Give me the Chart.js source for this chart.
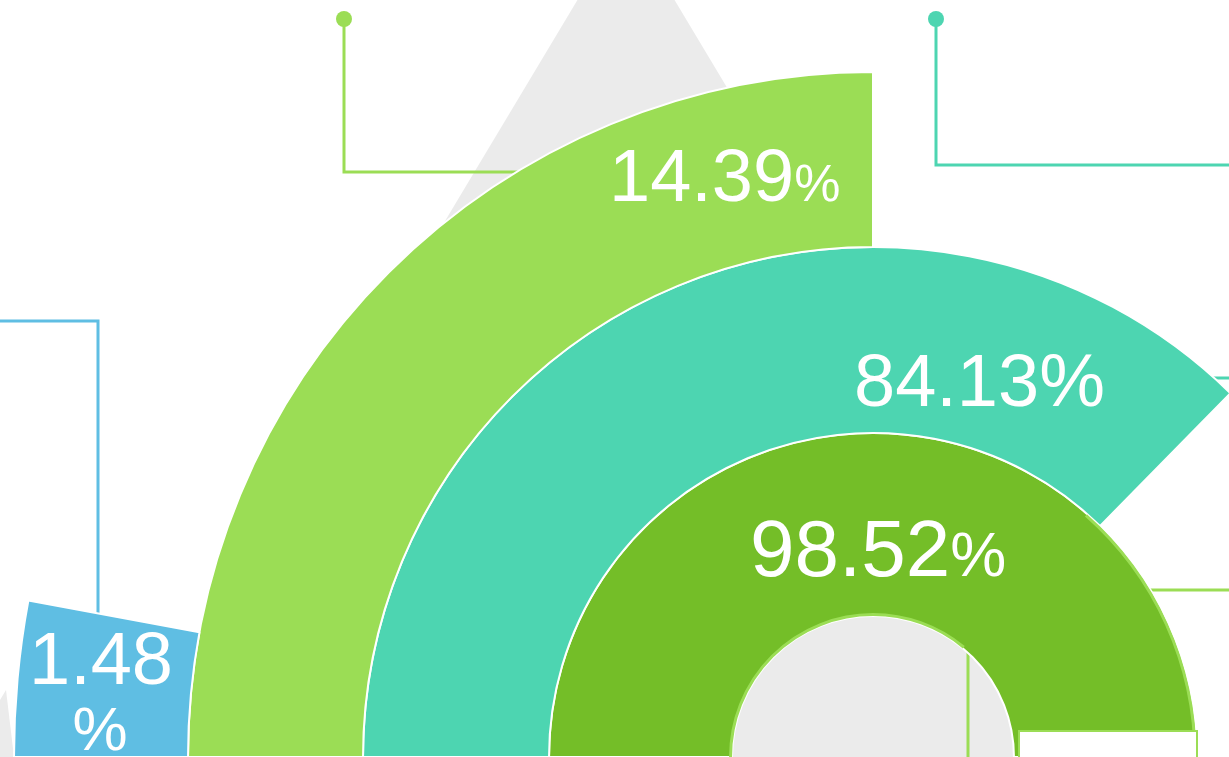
<!DOCTYPE html>
<html>
<head>
<meta charset="utf-8">
<title>Radial share chart</title>
<script src="https://cdn.jsdelivr.net/npm/chart.js@4.4.1/dist/chart.umd.min.js"></script>
<style>
  html, body { margin: 0; padding: 0; width: 1229px; height: 757px; overflow: hidden; background: #ffffff; }
  #wrap { position: absolute; left: 0; top: -116px; width: 1746px; height: 1746px; }
</style>
</head>
<body>
<div id="wrap"><canvas id="ringChart" width="1746" height="1746"></canvas></div>
<script>
// Values, outer ring first
const ringLabels = ['1.48', '14.39', '84.13', '98.52'];
const shareValues = [1.48, 14.39, 84.13, 98.52];
// sweep of each ring as drawn, in degrees
const arcSweeps = [10.5, 90, 134.5, 180];
const ringColors = ['#5fbee3', '#9bdd55', '#4dd5b1', '#74be28'];
const ringWeights = [174, 175, 186, 183];

// page offset of the canvas (canvas centre sits at the bottom of the page)
const OFFSET_Y = 116;
const GRAY = '#ebebeb';
const FONT = '"Liberation Sans", Arial, sans-serif';

function polyline(ctx, pts, color, width) {
  ctx.beginPath();
  ctx.moveTo(pts[0][0], pts[0][1]);
  for (let i = 1; i < pts.length; i++) ctx.lineTo(pts[i][0], pts[i][1]);
  ctx.strokeStyle = color;
  ctx.lineWidth = width || 3;
  ctx.lineJoin = 'miter';
  ctx.stroke();
}

function dot(ctx, x, y, r, color) {
  ctx.beginPath();
  ctx.arc(x, y, r, 0, Math.PI * 2);
  ctx.fillStyle = color;
  ctx.fill();
}

// background shapes and leader lines, drawn under the rings
const backdrop = {
  id: 'backdrop',
  beforeDatasetsDraw(chart) {
    const ctx = chart.ctx;
    ctx.save();
    ctx.translate(0, OFFSET_Y);

    // gray peak behind the rings
    ctx.beginPath();
    ctx.moveTo(626, -81);
    ctx.lineTo(1130, 760);
    ctx.lineTo(122, 760);
    ctx.closePath();
    ctx.fillStyle = GRAY;
    ctx.fill();

    // small gray piece bottom left
    ctx.beginPath();
    ctx.moveTo(0, 700);
    ctx.lineTo(6, 690);
    ctx.lineTo(14, 757);
    ctx.lineTo(0, 757);
    ctx.closePath();
    ctx.fill();

    // leader lines
    polyline(ctx, [[344, 19], [344, 172], [520, 172]], ringColors[1]);
    dot(ctx, 344, 19, 8, ringColors[1]);
    polyline(ctx, [[936, 19], [936, 165], [1229, 165]], ringColors[2]);
    dot(ctx, 936, 19, 8, ringColors[2]);
    polyline(ctx, [[0, 321], [98, 321], [98, 640]], ringColors[0]);
    polyline(ctx, [[1190, 378], [1229, 378]], ringColors[2]);
    polyline(ctx, [[1140, 590], [1229, 590]], ringColors[1]);
    polyline(ctx, [[968, 600], [968, 757]], ringColors[1]);

    ctx.restore();
  },
  afterDatasetsDraw(chart) {
    const ctx = chart.ctx;
    const inner = chart.getDatasetMeta(3).data[0];
    ctx.save();

    // light green outlines around the innermost ring
    ctx.strokeStyle = ringColors[1];
    ctx.lineWidth = 3;
    ctx.beginPath();
    ctx.arc(inner.x, inner.y, inner.outerRadius - 2, -Math.PI * 0.27, 0);
    ctx.stroke();
    ctx.beginPath();
    ctx.arc(inner.x, inner.y, inner.innerRadius + 1.5, Math.PI, Math.PI * 1.72);
    ctx.stroke();

    ctx.translate(0, OFFSET_Y);

    // white box at the end of the inner ring
    ctx.fillStyle = '#ffffff';
    ctx.fillRect(1019, 731, 178, 30);
    ctx.strokeStyle = ringColors[1];
    ctx.lineWidth = 2;
    ctx.strokeRect(1019, 731, 178, 30);

    // value labels
    ctx.fillStyle = '#ffffff';
    ctx.textAlign = 'left';
    ctx.textBaseline = 'alphabetic';
    const label = (txt, x, y, size, pctSize) => {
      ctx.font = size + 'px ' + FONT;
      ctx.fillText(txt, x, y);
      const w = ctx.measureText(txt).width;
      ctx.font = pctSize + 'px ' + FONT;
      ctx.fillText('%', x + w, y);
    };
    label(ringLabels[1], 609, 201, 74, 52);
    label(ringLabels[2], 854, 406, 74, 74);
    label(ringLabels[3], 750, 576, 80, 63);

    ctx.font = '74px ' + FONT;
    ctx.fillText(ringLabels[0], 29, 684);
    ctx.font = '62px ' + FONT;
    ctx.textAlign = 'center';
    ctx.fillText('%', 100, 750);

    ctx.restore();
  }
};

const datasets = arcSweeps.map((sweep, i) => ({
  label: ringLabels[i] + '%',
  data: [sweep, 360 - sweep],
  share: shareValues[i],
  backgroundColor: [ringColors[i], 'rgba(0,0,0,0)'],
  borderColor: ['#ffffff', 'rgba(0,0,0,0)'],
  borderWidth: [2, 0],
  weight: ringWeights[i]
}));

const chart = new Chart(document.getElementById('ringChart').getContext('2d'), {
  type: 'doughnut',
  data: {
    labels: ['value', 'rest'],
    datasets: datasets
  },
  options: {
    responsive: false,
    animation: false,
    devicePixelRatio: 1,
    rotation: -90,
    circumference: 360,
    radius: 859,
    cutout: '16.41%',
    plugins: {
      legend: { display: false },
      tooltip: { enabled: false }
    },
    events: []
  },
  plugins: [backdrop]
});
</script>
</body>
</html>
